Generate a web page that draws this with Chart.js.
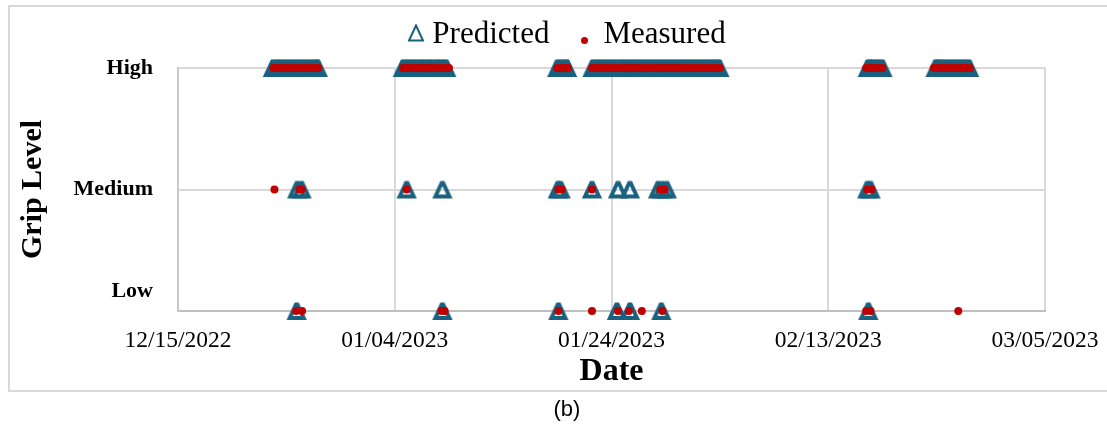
<!DOCTYPE html>
<html>
<head>
<meta charset="utf-8">
<script src="https://cdn.jsdelivr.net/npm/chart.js@4.4.1/dist/chart.umd.min.js"></script>
<style>
  html, body { margin: 0; padding: 0; background: #fff; }
  #wrap { position: relative; width: 1107px; height: 425px; overflow: hidden; }
  #frame { position: absolute; left: 8px; top: 5px; width: 1110px; height: 387px; border: 2px solid #d9d9d9; box-sizing: border-box; }
  #chart { position: absolute; left: 0; top: 0; }
  #caption { position: absolute; left: 0; top: 396px; width: 1134px; text-align: center; font: 22px "Liberation Sans", Arial, sans-serif; color: #000; }
</style>
</head>
<body>
<div id="wrap">
  <div id="frame"></div>
  <canvas id="chart" width="1107" height="425"></canvas>
  <div id="caption">(b)</div>
</div>
<script>
const gripLevels = ['Low', 'Medium', 'High'];
const dateTicks = ['12/15/2022', '01/04/2023', '01/24/2023', '02/13/2023', '03/05/2023'];

// x values are days after 12/15/2022
const predictedHigh = [
  8.75, 9, 9.25, 9.5, 9.75, 10, 10.25, 10.5, 10.75, 11, 11.25, 11.5, 11.75, 12, 12.25, 12.5, 12.75, 12.9,
  20.75, 21, 21.25, 21.5, 21.75, 22, 22.25, 22.5, 22.75, 23, 23.25, 23.5, 23.75, 24, 24.25, 24.5, 24.75,
  35, 35.25, 35.5, 35.75, 35.9,
  38.25, 38.5, 38.75, 39, 39.25, 39.5, 39.75, 40, 40.25, 40.5, 40.75, 41, 41.25, 41.5, 41.75, 42,
  42.25, 42.5, 42.75, 43, 43.25, 43.5, 43.75, 44, 44.25, 44.5, 44.75, 45, 45.25, 45.5, 45.75, 46,
  46.25, 46.5, 46.75, 47, 47.25, 47.5, 47.75, 48, 48.25, 48.5, 48.75, 49, 49.25, 49.5, 49.75, 49.95,
  63.65, 63.85, 64, 64.25, 64.5, 64.75, 65,
  69.9, 70.1, 70.25, 70.5, 70.75, 71, 71.25, 71.5, 71.75, 72, 72.25, 72.5, 72.75, 73
];
const predictedMedium = [11.0, 11.4, 21.1, 24.4, 35.05, 35.3, 38.2, 40.6, 41.7, 44.3, 44.7, 45.1, 63.6, 63.9];
const predictedLow = [10.95, 24.4, 35.1, 40.5, 41.7, 44.6, 63.7];

const measuredHigh = [
  8.8, 9, 9.25, 9.5, 9.75, 10, 10.25, 10.5, 10.75, 11, 11.25, 11.5, 11.75, 12, 12.25, 12.5, 12.75, 12.95,
  20.75, 21, 21.25, 21.5, 21.75, 22, 22.25, 22.5, 22.75, 23, 23.25, 23.5, 23.75, 24, 24.25, 24.5, 24.75, 25,
  35, 35.25, 35.5, 35.75, 36,
  38.2, 38.5, 38.75, 39, 39.25, 39.5, 39.75, 40, 40.25, 40.5, 40.75, 41, 41.25, 41.5, 41.75, 42,
  42.25, 42.5, 42.75, 43, 43.25, 43.5, 43.75, 44, 44.25, 44.5, 44.75, 45, 45.25, 45.5, 45.75, 46,
  46.25, 46.5, 46.75, 47, 47.25, 47.5, 47.75, 48, 48.25, 48.5, 48.75, 49, 49.25, 49.5, 49.75, 50,
  63.5, 63.75, 64, 64.25, 64.5, 64.75, 65,
  69.75, 70, 70.25, 70.5, 70.75, 71, 71.25, 71.5, 71.75, 72, 72.25, 72.5, 72.75, 73.05
];
const measuredMedium = [8.9, 11.2, 11.4, 21.1, 35.1, 35.4, 38.2, 44.5, 44.9, 63.6, 64.0];
const measuredLow = [10.9, 11.45, 24.3, 24.6, 35.1, 38.2, 40.6, 41.6, 42.8, 44.7, 63.5, 63.9, 72.0];

const blue = '#19617f';
const red = '#c00000';
const serif = '"Liberation Serif", "Times New Roman", serif';

// hollow triangle; a tiny flat top (topHalf) keeps piled-up markers flat
function makeTriangle(w, h, lw, apexY, baseY, inset, topHalf) {
  const c = document.createElement('canvas');
  c.width = w;
  c.height = h;
  const g = c.getContext('2d');
  g.strokeStyle = blue;
  g.lineWidth = lw;
  g.lineJoin = 'miter';
  g.beginPath();
  g.moveTo(w / 2 - topHalf, apexY);
  g.lineTo(w / 2 + topHalf, apexY);
  g.lineTo(w - inset, baseY);
  g.lineTo(inset, baseY);
  g.closePath();
  g.stroke();
  return c;
}

function makeDot(r) {
  const c = document.createElement('canvas');
  c.width = c.height = Math.ceil(r * 2);
  const g = c.getContext('2d');
  g.fillStyle = red;
  g.beginPath();
  g.arc(c.width / 2, c.height / 2, r, 0, Math.PI * 2);
  g.fill();
  return c;
}

const triangleMarker = makeTriangle(22, 20, 4, 3.5, 17, 4, 0.75);
const legendTriangle = makeTriangle(16, 18, 2, 1.5, 16.5, 1, 0);
const legendDot = makeDot(3.5);

const toPoints = (days, level) => days.map(d => ({ x: d, y: level }));

// legend drawn above the plot, like the Excel one
const topLegend = {
  id: 'topLegend',
  afterDraw(chart) {
    const ctx = chart.ctx;
    const items = [
      { text: chart.data.datasets[1].label, img: legendTriangle, gap: 8, cy: 33 },
      { text: chart.data.datasets[0].label, img: legendDot, gap: 15, cy: 40 }
    ];
    const spacing = 32;
    ctx.save();
    ctx.font = '31px ' + serif;
    ctx.fillStyle = '#000';
    ctx.textBaseline = 'alphabetic';
    let total = 0;
    items.forEach(it => {
      it.w = it.img.width + it.gap + ctx.measureText(it.text).width;
      total += it.w;
    });
    total += spacing * (items.length - 1);
    let x = 567 - total / 2;
    items.forEach(it => {
      ctx.drawImage(it.img, Math.round(x), Math.round(it.cy - it.img.height / 2));
      ctx.fillText(it.text, x + it.img.width + it.gap, 43);
      x += it.w + spacing;
    });
    ctx.restore();
  }
};

new Chart(document.getElementById('chart'), {
  type: 'scatter',
  data: {
    datasets: [
      {
        label: 'Measured',
        data: [...toPoints(measuredLow, 0), ...toPoints(measuredMedium, 1), ...toPoints(measuredHigh, 2)],
        pointStyle: 'circle',
        pointRadius: 4,
        backgroundColor: red,
        borderColor: red,
        borderWidth: 0,
        clip: false,
        order: 0
      },
      {
        label: 'Predicted',
        data: [...toPoints(predictedLow, 0), ...toPoints(predictedMedium, 1), ...toPoints(predictedHigh, 2)],
        pointStyle: triangleMarker,
        pointRadius: 9,
        borderWidth: 0,
        clip: false,
        order: 1
      }
    ]
  },
  options: {
    responsive: false,
    animation: false,
    events: [],
    layout: { padding: { top: 68, left: 12, right: 0, bottom: 20 } },
    plugins: {
      legend: { display: false },
      tooltip: { enabled: false }
    },
    scales: {
      x: {
        type: 'linear',
        min: 0,
        max: 80,
        afterFit: scale => {
          scale.height = 94;
          scale.paddingRight = 62;
        },
        ticks: {
          stepSize: 20,
          autoSkip: false,
          maxRotation: 0,
          padding: 16,
          color: '#000',
          font: { family: serif, size: 23.5 },
          callback: v => dateTicks[v / 20]
        },
        grid: { color: '#d9d9d9', lineWidth: 2, drawTicks: false },
        border: { color: '#bfbfbf', width: 2 },
        title: {
          display: true,
          text: 'Date',
          color: '#000',
          font: { family: serif, size: 32, weight: 'bold' },
          padding: { top: 0, bottom: 14 }
        }
      },
      y: {
        min: 0,
        max: 2,
        afterFit: scale => { scale.width = 166; },
        ticks: {
          stepSize: 1,
          autoSkip: false,
          padding: 25,
          color: '#000',
          font: { family: serif, size: 22, weight: 'bold', lineHeight: '40px' },
          // Excel put the "Low" label above its line
          callback: v => v === 0 ? [gripLevels[0], ''] : gripLevels[v]
        },
        grid: { color: '#d9d9d9', lineWidth: 2, drawTicks: false },
        border: { color: '#c8c8c8', width: 2 },
        title: {
          display: true,
          text: 'Grip Level',
          color: '#000',
          font: { family: serif, size: 30, weight: 'bold' },
          padding: { top: 3, bottom: 0 }
        }
      }
    }
  },
  plugins: [topLegend]
});
</script>
</body>
</html>
